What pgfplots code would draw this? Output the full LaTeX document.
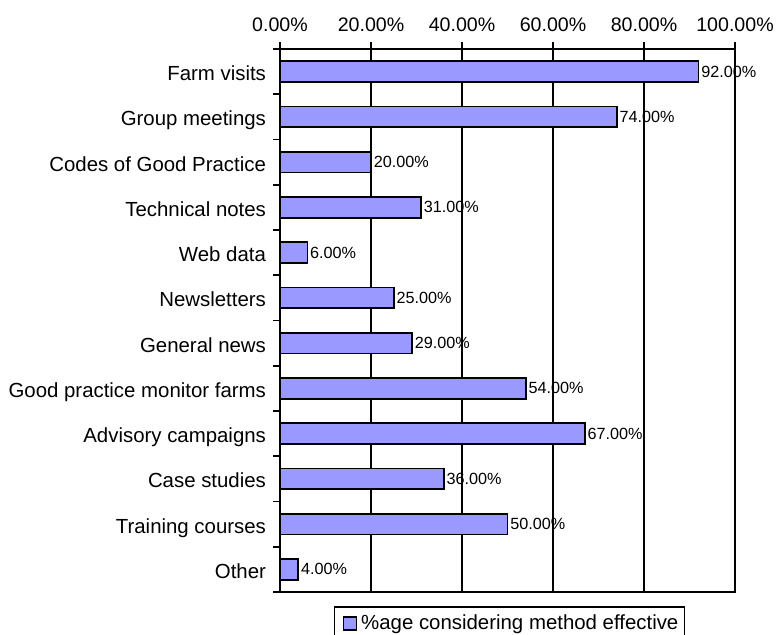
\documentclass[border=0pt]{standalone}
\usepackage{pgfplots}
\pgfplotsset{compat=1.18}
\usepackage{fontspec}
\setmainfont{Liberation Sans}
\definecolor{barblue}{HTML}{9999FF}
\begin{document}
\begin{tikzpicture}
\useasboundingbox (0,0) rectangle (388pt,317pt);
\begin{axis}[
  at={(140pt,292.5pt)}, anchor=north west,
  scale only axis, width=227.5pt, height=271.5pt,
  xbar, xmin=0, xmax=100, ymin=-0.5, ymax=11.5, y dir=reverse,
  bar width=0.46,
  xtick={0,20,...,100},
  xticklabels={0.00\%,20.00\%,40.00\%,60.00\%,80.00\%,100.00\%},
  xtick pos=right, xticklabel pos=right,
  ytick={-0.5,0.5,...,11.5},
  yticklabels={Farm visits,Group meetings,Codes of Good Practice,Technical notes,Web data,Newsletters,General news,Good practice monitor farms,Advisory campaigns,Case studies,Training courses,Other,{}},
  yticklabel style={yshift=-13.2pt, font=\fontsize{10.2}{12}\selectfont, anchor=east, text height=7.3pt, text depth=2.1pt},
  xticklabel style={font=\fontsize{9.8}{11}\selectfont, yshift=1.5pt},
  ytick pos=left,
  tick align=outside, major tick length=3.5pt,
  xmajorgrids, grid style={black, line width=0.8pt},
  axis line style={line width=0.8pt},
  tick style={black, line width=0.8pt},
  /pgf/number format/assume math mode=true,
  nodes near coords={\pgfmathprintnumber[fixed,fixed zerofill,precision=2]{\pgfplotspointmeta}\%},
  nodes near coords align=horizontal,
  every node near coord/.append style={font=\fontsize{8.1}{9}\selectfont, inner sep=1pt, anchor=west, black},
  legend style={at={(0.5,0)}, anchor=north, yshift=-7pt, xshift=1pt, draw=black, line width=0.8pt,
    font=\fontsize{10.2}{12}\selectfont, inner xsep=1pt, inner ysep=2pt},
  legend image code/.code={\path (0pt,0pt); \draw[fill=barblue, draw=black, line width=0.8pt] (3pt,-3.25pt) rectangle (9.5pt,3.25pt);},
]
\addplot[fill=barblue, draw=black, line width=0.8pt] coordinates {
  (92,0) (74,1) (20,2) (31,3) (6,4) (25,5) (29,6) (54,7) (67,8) (36,9) (50,10) (4,11)
};
\addlegendentry{\%age considering method effective}
\end{axis}
\end{tikzpicture}
\end{document}
